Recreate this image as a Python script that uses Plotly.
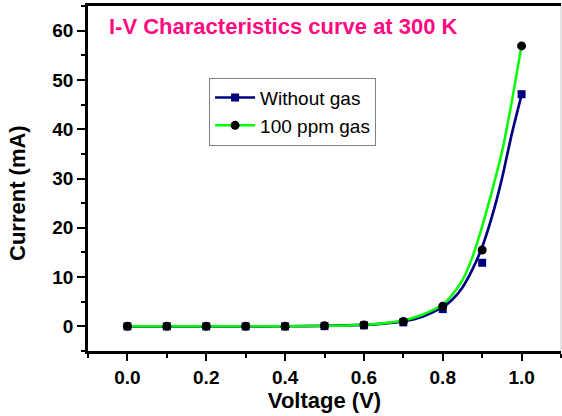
import plotly.graph_objects as go

# Measured data points
voltage = [0.0, 0.1, 0.2, 0.3, 0.4, 0.5, 0.6, 0.7, 0.8, 0.9, 1.0]
current_without = [0.0, 0.0, 0.0, 0.0, 0.0, 0.05, 0.2, 0.8, 3.5, 12.9, 47.1]
current_100ppm = [0.0, 0.0, 0.0, 0.0, 0.0, 0.1, 0.3, 1.0, 4.1, 15.5, 56.9]

# Fitted curves
fit_voltage = [0.0, 0.1, 0.2, 0.3, 0.4, 0.5, 0.6, 0.65, 0.7, 0.75, 0.8, 0.825,
               0.85, 0.875, 0.9, 0.925, 0.95, 0.975, 1.0]
fit_without = [0.0, 0.0, 0.0, 0.0, 0.02, 0.1, 0.3, 0.55, 1.0, 2.0, 3.9, 5.5,
               7.9, 11.5, 16.1, 22.3, 29.9, 39.0, 47.0]
fit_100ppm = [0.0, 0.0, 0.0, 0.0, 0.03, 0.1, 0.35, 0.65, 1.2, 2.4, 4.4, 6.5,
              9.4, 14.0, 20.3, 27.5, 35.3, 45.5, 57.0]

series_names = ["Without gas", "100 ppm gas"]
x_ticks = [0.0, 0.2, 0.4, 0.6, 0.8, 1.0]
y_ticks = [0, 10, 20, 30, 40, 50, 60]

NAVY = "#000080"
GREEN = "#00FF00"
BLACK = "#000000"
PINK = "#FF0A80"
FONT = "Liberation Sans, Arial, sans-serif"

fig = go.Figure()

fig.add_trace(go.Scatter(x=fit_voltage, y=fit_without, mode="lines",
                         line=dict(color=NAVY, width=2.7, shape="spline", smoothing=0.6),
                         showlegend=False, hoverinfo="skip"))
fig.add_trace(go.Scatter(x=fit_voltage, y=fit_100ppm, mode="lines",
                         line=dict(color=GREEN, width=2.5, shape="spline", smoothing=0.6),
                         showlegend=False, hoverinfo="skip"))
fig.add_trace(go.Scatter(x=voltage, y=current_without, mode="markers",
                         marker=dict(symbol="square", size=8, color=NAVY),
                         showlegend=False))
fig.add_trace(go.Scatter(x=voltage, y=current_100ppm, mode="markers",
                         marker=dict(symbol="circle", size=9, color=BLACK),
                         showlegend=False))

# legend entries
fig.add_trace(go.Scatter(x=[None], y=[None], mode="lines+markers", name=series_names[0],
                         line=dict(color=NAVY, width=2.5),
                         marker=dict(symbol="square", size=8, color=NAVY)))
fig.add_trace(go.Scatter(x=[None], y=[None], mode="lines+markers", name=series_names[1],
                         line=dict(color=GREEN, width=2.5),
                         marker=dict(symbol="circle", size=9, color=BLACK)))

fig.update_layout(
    width=562, height=416,
    margin=dict(l=88, r=1, t=6, b=65),
    paper_bgcolor="white", plot_bgcolor="white",
    font=dict(family=FONT, color="black"),
    showlegend=True,
    legend=dict(x=0.256, y=0.792, xanchor="left", yanchor="top",
                bgcolor="white", bordercolor="#808080", borderwidth=1,
                font=dict(size=19, family=FONT, color="black"),
                itemwidth=40, tracegroupgap=0),
    annotations=[
        dict(text="I-V Characteristics curve at 300 K",
             x=0.04, y=0.94, xref="paper", yref="paper",
             xanchor="left", yanchor="middle", showarrow=False,
             font=dict(size=22, family=FONT, color=PINK, weight="bold")),
        dict(text="Current (mA)", textangle=-90,
             x=-0.148, y=0.458, xref="paper", yref="paper",
             xanchor="center", yanchor="middle", showarrow=False,
             font=dict(size=22, family=FONT, color="black", weight="bold")),
    ],
    shapes=[dict(type="line", xref="paper", yref="paper", x0=1, x1=1, y0=0, y1=1,
                 line=dict(color="#C8C8C8", width=1))],
)

fig.update_xaxes(
    range=[-0.1, 1.1], tickvals=x_ticks, ticktext=[f"{v:.1f}" for v in x_ticks],
    automargin=False,
    showgrid=False, zeroline=False,
    showline=True, linecolor="black", linewidth=2.5, mirror=True,
    ticks="outside", ticklen=7, tickwidth=2, tickcolor="black",
    minor=dict(dtick=0.1, tick0=0.0, ticks="outside", ticklen=4, tickwidth=2, tickcolor="black"),
    tickfont=dict(size=19, family=FONT, color="black", weight="bold"),
    title=dict(text="Voltage (V)", standoff=7,
               font=dict(size=22, family=FONT, color="black", weight="bold")),
)
fig.update_yaxes(
    range=[-5, 65], tickvals=y_ticks, ticktext=[str(v) for v in y_ticks],
    automargin=False,
    showgrid=False, zeroline=False,
    showline=True, linecolor="black", linewidth=2.5,
    ticks="outside", ticklen=8, tickwidth=2, tickcolor="black",
    minor=dict(dtick=5, tick0=0, ticks="outside", ticklen=4, tickwidth=2, tickcolor="black"),
    tickfont=dict(size=19, family=FONT, color="black", weight="bold"),
)

fig.write_html("out.html", config={"displayModeBar": False},
               post_script="document.body.style.margin='0';")
